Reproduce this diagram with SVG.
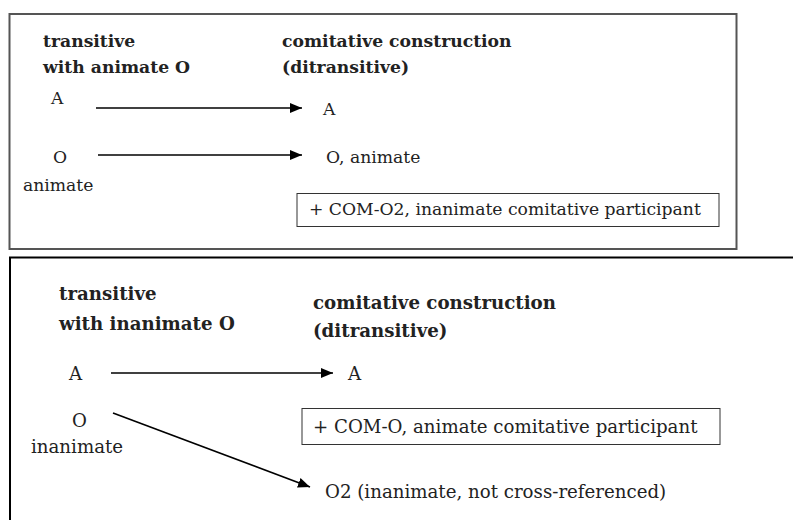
<svg xmlns="http://www.w3.org/2000/svg" width="793" height="520" viewBox="0 0 793 520">
<defs>
<marker id="ah" viewBox="0 0 12 10" refX="12" refY="5" markerWidth="12" markerHeight="10" markerUnits="userSpaceOnUse" orient="auto">
<path d="M0,0 L12,5 L0,10 z" fill="#000"/>
</marker>
</defs>
<style>
text{font-family:"DejaVu Serif","Liberation Serif",serif;fill:#222}
.h{font-weight:bold;font-size:17.2px}
.t{font-size:17.2px}
.hb{font-weight:bold;font-size:18.2px}
.tb{font-size:18.2px}
.c{stroke:#000;stroke-width:1.6;fill:none;marker-end:url(#ah)}
</style>
<rect x="0" y="0" width="793" height="520" fill="#fff"/>
<g id="panel-top">
<rect x="9.5" y="14" width="727" height="235" fill="none" stroke="#555" stroke-width="2"/>
<text class="h" x="43" y="47">transitive</text>
<text class="h" x="43" y="73">with animate O</text>
<text class="h" x="282" y="47">comitative construction</text>
<text class="h" x="282" y="73">(ditransitive)</text>
</g>
<g id="top-A-src"><text class="t" x="51" y="104">A</text></g>
<g id="top-A-dst"><text class="t" x="323" y="115">A</text></g>
<g id="top-O-src"><text class="t" x="53" y="163">O</text><text class="t" x="23" y="191">animate</text></g>
<g id="top-O-dst"><text class="t" x="326" y="163">O, animate</text></g>
<g id="top-com">
<rect x="297" y="193.5" width="422" height="33" fill="none" stroke="#333" stroke-width="1"/>
<text class="t" x="309" y="215">+ COM-O2, inanimate comitative participant</text>
</g>
<g id="panel-bottom">
<path d="M10,520 V257.5 H793" fill="none" stroke="#000" stroke-width="2"/>
<text class="hb" x="59" y="300">transitive</text>
<text class="hb" x="59" y="330">with inanimate O</text>
<text class="hb" x="313" y="309">comitative construction</text>
<text class="hb" x="313" y="337">(ditransitive)</text>
</g>
<g id="bot-A-src"><text class="tb" x="69" y="380">A</text></g>
<g id="bot-A-dst"><text class="tb" x="348" y="380">A</text></g>
<g id="bot-O-src"><text class="tb" x="72" y="427">O</text><text class="tb" x="31" y="453">inanimate</text></g>
<g id="bot-com">
<rect x="302" y="408.5" width="418" height="36" fill="none" stroke="#333" stroke-width="1"/>
<text class="tb" x="313" y="433">+ COM-O, animate comitative participant</text>
</g>
<g id="bot-O2"><text class="tb" x="325" y="498">O2 (inanimate, not cross-referenced)</text></g>
<g id="connectors">
<line class="c" x1="96" y1="108" x2="302" y2="108"/>
<line class="c" x1="98" y1="155" x2="302" y2="155"/>
<line class="c" x1="111" y1="373" x2="333" y2="373"/>
<line class="c" x1="113" y1="413" x2="310" y2="487"/>
</g>
</svg>
